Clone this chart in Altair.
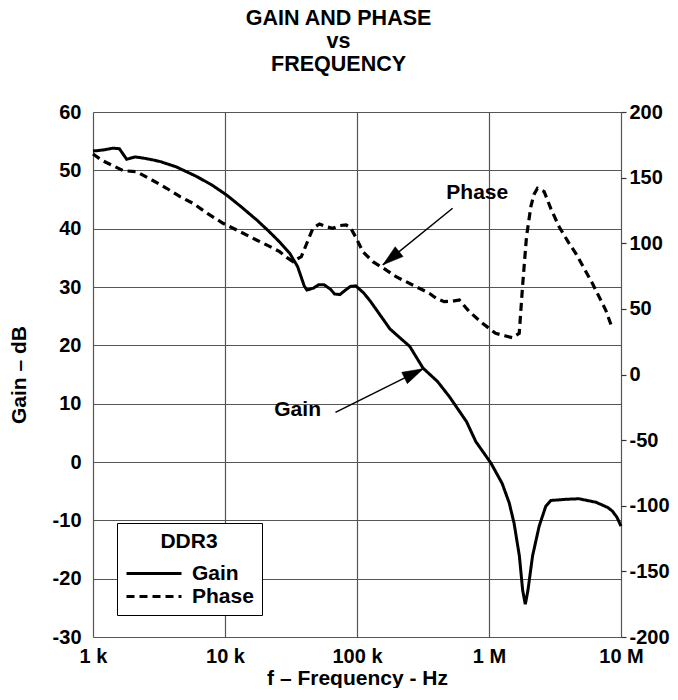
import json
import altair as alt
import pandas as pd

# ---------------- data ----------------
gain_logf = [3.00, 3.08, 3.15, 3.20, 3.255, 3.32, 3.38, 3.45, 3.51, 3.63, 3.78, 3.90,
             4.01, 4.12, 4.24, 4.33, 4.41, 4.49, 4.55, 4.60, 4.62, 4.67, 4.71, 4.75,
             4.80, 4.83, 4.87, 4.92, 4.95, 4.99, 5.05, 5.10, 5.25, 5.40, 5.50, 5.61,
             5.70, 5.83, 5.90, 6.015, 6.10, 6.153, 6.19, 6.23, 6.255, 6.275, 6.295,
             6.33, 6.38, 6.43, 6.468, 6.58, 6.68, 6.81, 6.90, 6.934, 6.97, 7.00]
gain_db = [53.3, 53.5, 53.8, 53.7, 51.9, 52.3, 52.1, 51.8, 51.5, 50.6, 49.0, 47.5,
           45.8, 43.8, 41.5, 39.6, 37.8, 35.8, 33.5, 30.2, 29.5, 29.8, 30.4, 30.4,
           29.6, 28.8, 28.7, 29.6, 30.1, 30.2, 29.0, 27.6, 22.8, 19.8, 16.1, 13.8,
           11.2, 6.9, 3.5, -0.2, -3.7, -7.0, -10.5, -16.1, -22.0, -24.4, -22.0,
           -16.1, -11.0, -7.6, -6.6, -6.4, -6.3, -6.9, -7.8, -8.4, -9.5, -11.0]

phase_logf = [3.00, 3.07, 3.14, 3.23, 3.33, 3.45, 3.557, 3.66, 3.758, 3.87, 3.985,
              4.10, 4.238, 4.33, 4.414, 4.47, 4.515, 4.578, 4.62, 4.666, 4.716, 4.77,
              4.817, 4.87, 4.918, 4.95, 4.994, 5.044, 5.12, 5.20, 5.296, 5.448, 5.548,
              5.60, 5.66, 5.72, 5.775, 5.85, 5.951, 6.05, 6.12, 6.178, 6.229, 6.254,
              6.284, 6.317, 6.34, 6.367, 6.418, 6.47, 6.531, 6.60, 6.657, 6.72, 6.783,
              6.884, 6.934]
phase_deg = [168, 163, 159.6, 155.3, 154.5, 148, 141.9, 135.5, 130.4, 122.5, 115.2,
             109.5, 102.5, 98, 93.6, 89, 86.0, 89.8, 100, 111.4, 114.7, 112.5,
             111.4, 113.5, 113.9, 112, 104, 93.6, 86.0, 81, 74.5, 66.9, 61.9,
             58, 55.5, 55.8, 56.8, 48, 39.0, 31.4, 29.5, 28.0, 31.4, 66.9,
             105.0, 127.9, 137, 141.9, 139.3, 126, 112.6, 101, 92.3, 81, 69.5,
             49.1, 35.2]

series_names = ["Gain", "Phase"]
x_ticks = [1e3, 1e4, 1e5, 1e6, 1e7]
x_tick_labels = ["1 k", "10 k", "100 k", "1 M", "10 M"]
gain_ticks = [-30, -20, -10, 0, 10, 20, 30, 40, 50, 60]
phase_ticks = [-200, -150, -100, -50, 0, 50, 100, 150, 200]

# annotations (data space: frequency in Hz, gain axis in dB)
ann_labels = ["Gain", "Phase"]
ann_freq = [35500, 815000]
ann_db = [9.0, 46.1]
arrow_freq_start = [68700, 530000]
arrow_db_start = [8.5, 43.5]
arrow_freq_end = [318000, 157000]
arrow_db_end = [16.0, 33.8]
arrow_angle = [63.6, 231]

FONT = "Liberation Sans"
FS = 21
AFS = 20
X_TITLE = "f – Frequency - Hz"
Y_TITLE = "Gain – dB"

gain_df = pd.DataFrame({"f": [10 ** v for v in gain_logf], "val": gain_db,
                        "series": series_names[0]})
phase_df = pd.DataFrame({"f": [10 ** v for v in phase_logf], "val": phase_deg,
                         "series": series_names[1]})
ann_df = pd.DataFrame({"label": ann_labels, "f": ann_freq, "val": ann_db})
arrow_df = pd.DataFrame({"f": arrow_freq_start, "val": arrow_db_start,
                         "f2": arrow_freq_end, "val2": arrow_db_end,
                         "angle": arrow_angle})

xscale = alt.Scale(type="log", domain=[1e3, 1e7], nice=False)
gscale = alt.Scale(domain=[-30, 60], nice=False)
pscale = alt.Scale(domain=[-200, 200], nice=False)
label_expr = json.dumps(x_tick_labels) + "[round(log(datum.value)/log(10)) - 3]"

x_axis = alt.Axis(values=x_ticks, labelExpr=label_expr, grid=True,
                  gridColor="#555", gridWidth=1.2, ticks=False,
                  domain=False, labelPadding=9, labelFontSize=AFS,
                  labelFont=FONT, labelFontWeight="bold", labelColor="#000",
                  title=X_TITLE, titleFontSize=FS, titleFont=FONT,
                  titleFontWeight="bold", titleColor="#000",
                  titlePadding=1, labelFlush=False)
g_axis = alt.Axis(values=gain_ticks, grid=True, gridColor="#555",
                  gridWidth=1.2, ticks=False, domain=False,
                  labelPadding=12, labelFontSize=AFS, labelFont=FONT,
                  labelFontWeight="bold", labelColor="#000",
                  labelExpr="'' + datum.value",
                  title=Y_TITLE, titleFontSize=FS, titleFont=FONT,
                  titleFontWeight="bold", titleColor="#000",
                  titlePadding=23)
p_axis = alt.Axis(orient="right", values=phase_ticks, grid=False,
                  tickSize=5, tickColor="#333", tickWidth=1.2,
                  domain=False, labelPadding=3, labelFontSize=AFS,
                  labelFont=FONT, labelFontWeight="bold",
                  labelColor="#000", labelExpr="'' + datum.value", title=None)

dash = alt.StrokeDash(
    "series:N",
    scale=alt.Scale(domain=series_names, range=[[1, 0], [8, 5]]),
    legend=alt.Legend(
        title="DDR3", orient="none", legendX=24, legendY=411,
        strokeColor="#000", fillColor="#fff", padding=8,
        titleFontSize=FS, titleFont=FONT, titleFontWeight="bold",
        titleAnchor="middle", titleAlign="center", titlePadding=9,
        titleColor="#000",
        labelFontSize=FS, labelFont=FONT, labelFontWeight="bold",
        labelColor="#000", labelOffset=42,
        symbolType="M-1,0L4,0", symbolSize=484, symbolStrokeWidth=3,
        symbolStrokeColor="#000", rowPadding=0,
    ),
)

gain_line = alt.Chart(gain_df).mark_line(color="#000", strokeWidth=3).encode(
    x=alt.X("f:Q", scale=xscale, axis=x_axis, title=X_TITLE),
    y=alt.Y("val:Q", scale=gscale, axis=g_axis, title=Y_TITLE),
    strokeDash=dash,
)

ann_text = alt.Chart(ann_df).mark_text(
    font=FONT, fontSize=FS, fontWeight="bold", color="#000"
).encode(
    x=alt.X("f:Q", scale=xscale, axis=x_axis, title=X_TITLE),
    y=alt.Y("val:Q", scale=gscale, axis=g_axis, title=Y_TITLE),
    text="label:N",
)

arrow_line = alt.Chart(arrow_df).mark_rule(color="#000", strokeWidth=1.5).encode(
    x=alt.X("f:Q", scale=xscale, axis=x_axis, title=X_TITLE),
    x2="f2:Q",
    y=alt.Y("val:Q", scale=gscale, axis=g_axis, title=Y_TITLE),
    y2="val2:Q",
)

arrow_head = alt.Chart(arrow_df).mark_point(
    shape="M0,0L0.6,2L-0.6,2Z", filled=True, fill="#000", stroke="#000",
    strokeWidth=0.5, opacity=1, size=440,
).encode(
    x=alt.X("f2:Q", scale=xscale, axis=x_axis, title=X_TITLE),
    y=alt.Y("val2:Q", scale=gscale, axis=g_axis, title=Y_TITLE),
    angle=alt.Angle("angle:Q", scale=None),
)

left_layer = alt.layer(gain_line, arrow_line, arrow_head, ann_text)

phase_line = alt.Chart(phase_df).mark_line(color="#000", strokeWidth=3.2).encode(
    x=alt.X("f:Q", scale=xscale, axis=x_axis, title=X_TITLE),
    y=alt.Y("val:Q", scale=pscale, axis=p_axis),
    strokeDash=dash,
)

chart = alt.layer(left_layer, phase_line).resolve_scale(y="independent").properties(
    width=528,
    height=525,
    padding={"left": 0, "top": 0, "right": 0, "bottom": 0},
    title=alt.Title(
        ["GAIN AND PHASE", "vs", "FREQUENCY"],
        font=FONT, fontSize=21.5, fontWeight="bold", color="#000",
        anchor="middle", frame="bounds", lineHeight=23, offset=26.5,
    ),
).configure_view(stroke="#333", strokeWidth=1.5).configure(background="#fff")

chart.save("out.html", embed_options={"renderer": "svg", "actions": False})
